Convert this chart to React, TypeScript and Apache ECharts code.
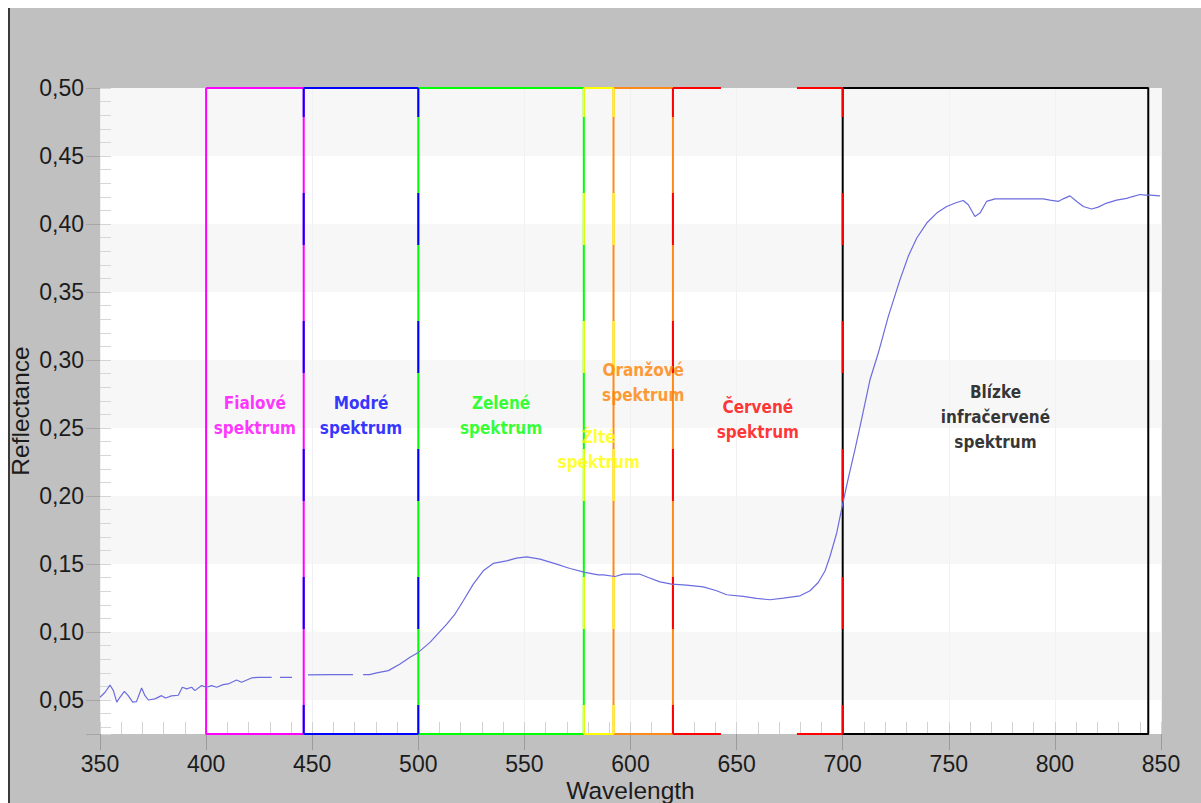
import React, { useEffect, useRef } from 'react';
import * as echarts from 'echarts';

// Spectral reflectance curve (null = gap in the recorded trace)
const wavelengths = [
  350, 352.4, 354.7, 356.3, 357.9, 359.4, 361.5, 363.3, 365.4, 367.2, 369.6, 371.2, 372.8, 375.9,
  379, 380.9, 383.7, 386.9, 388.8, 390.8, 393.2, 394.7, 397.9, 400.2, 402.6, 405, 408, 410.4,
  414.4, 416.7, 421.4, 424.6, 430.9, 432.8, 434.8, 440.5, 444, 448, 458.4, 469.2, 471.5, 474, 477,
  480.4, 485.9, 491.4, 496.1, 500, 505.5, 513.4, 517.3, 521.2, 525.9, 530.6, 535.3, 541.6, 546.3,
  551.1, 557.4, 565.2, 571.5, 578.6, 584.8, 587.2, 592.7, 596.6, 604.5, 608.4, 613.9, 619.4,
  626.4, 634.3, 640.6, 645.3, 653.1, 659.4, 665.7, 672, 679.9, 684.6, 688.5, 691.7, 694, 697.2,
  699.8, 702.7, 705.8, 708.9, 712.9, 716.8, 721.5, 727, 730.9, 734.9, 739.6, 744.3, 749, 753.7,
  756.8, 759.2, 762.3, 764.7, 767.8, 771.8, 780, 788, 794.5, 797.7, 801.6, 803.9, 807.1, 810.3,
  813.4, 817.3, 820.4, 824.4, 829.1, 833.8, 836.2, 840.1, 842.5, 844.9, 849.5,
];
const reflectance = [
  0.052, 0.0557, 0.061, 0.0569, 0.0484, 0.052, 0.0564, 0.0532, 0.0484, 0.0488, 0.0588, 0.0532, 0.05, 0.0508,
  0.0532, 0.0515, 0.053, 0.0535, 0.0594, 0.0582, 0.0594, 0.0569, 0.0606, 0.0594, 0.0606, 0.0594, 0.0613, 0.0618,
  0.0647, 0.063, 0.0662, 0.0667, 0.0667, null, 0.0667, 0.0667, null, 0.0685, 0.0687, 0.0687, null, 0.0687, 0.0687,
  0.0699, 0.0716, 0.0765, 0.0814, 0.085, 0.0924, 0.1058, 0.1132, 0.123, 0.1352, 0.145, 0.1504, 0.1523, 0.1543,
  0.1552, 0.1536, 0.1499, 0.1467, 0.1438, 0.142, 0.142, 0.1408, 0.1425, 0.1425, 0.1401, 0.1369, 0.1352,
  0.1345, 0.1332, 0.1303, 0.1274, 0.1262, 0.1247, 0.1237, 0.1249, 0.1266, 0.1303, 0.1364, 0.145, 0.1555, 0.173,
  0.1927, 0.2135, 0.2343, 0.2563, 0.2857, 0.3053, 0.3321, 0.3591, 0.3762, 0.3897, 0.4007, 0.408, 0.4129, 0.4158,
  0.4173, 0.4141, 0.4055, 0.408, 0.4166, 0.4185, 0.4185, 0.4185, 0.4185, 0.4176, 0.4166, 0.4185, 0.4207, 0.4166,
  0.4129, 0.411, 0.4124, 0.4154, 0.4176, 0.4188, 0.42, 0.4217, 0.4212, 0.4212, 0.4207,
];

// Spectral bands
const bandStart = [400, 446, 500, 578, 592, 620, 700];
const bandEnd = [446, 500, 578, 592, 620, 700, 844];
const bandNames = [
  'Fialové\nspektrum',
  'Modré\nspektrum',
  'Zelené\nspektrum',
  'Žlté\nspektrum',
  'Oranžové\nspektrum',
  'Červené\nspektrum',
  'Blízke\ninfračervené\nspektrum',
];
const bandLabelLevel = [0.2595, 0.2595, 0.2595, 0.234, 0.2835, 0.2563, 0.2578];
const bandDashedSides = [false, true, false, true, false, true, false];
const bandDashedTopBottom = [false, false, false, false, false, true, false];

// Axes
const xMin = 350;
const xMax = 850;
const xStep = 50;
const xMinorStep = 10;
const yMin = 0.025;
const yMax = 0.5;
const yStep = 0.05;
const yMinorStep = 0.01;

const bandColors = ['#ff00ff', '#0000ff', '#00ff00', '#ffff00', '#ff8a1c', '#ff0000', '#000000'];
const labelFont = "'DejaVu Sans Condensed', 'Liberation Sans Narrow', 'DejaVu Sans', sans-serif";
const axisFont = "'Liberation Sans', Arial, sans-serif";

function edge(data: any[], color: string, type: any, offset: number) {
  return {
    type: 'line',
    data,
    symbol: 'none',
    silent: true,
    clip: false,
    z: 3,
    lineStyle: { color, width: 2, type, dashOffset: offset },
  };
}

export default function App() {
  const ref = useRef<HTMLDivElement>(null);

  useEffect(() => {
    if (!ref.current) return;
    const chart = echarts.init(ref.current, undefined, { renderer: 'svg' });

    const series: any[] = [];
    bandStart.forEach((s, i) => {
      const e = bandEnd[i];
      if (!bandDashedSides[i]) {
        series.push(edge([[s, yMax], [e, yMax], [e, yMin], [s, yMin], [s, yMax]], bandColors[i], 'solid', 0));
      }
    });
    bandStart.forEach((s, i) => {
      const e = bandEnd[i];
      if (bandDashedSides[i]) {
        const c = bandColors[i];
        series.push(edge([[s, yMax], [s, yMin]], c, [52, 76], 23));
        series.push(edge([[e, yMax], [e, yMin]], c, [52, 76], 23));
        const h = bandDashedTopBottom[i] ? [52, 76] : 'solid';
        series.push(edge([[s, yMax], [e, yMax]], c, h, 4));
        series.push(edge([[s, yMin], [e, yMin]], c, h, 4));
      }
    });

    series.push({
      type: 'line',
      data: wavelengths.map((w, i) => [w, reflectance[i] == null ? '-' : reflectance[i]]),
      symbol: 'none',
      showSymbol: false,
      connectNulls: false,
      z: 4,
      silent: true,
      lineStyle: { color: '#6c6cde', width: 1.2 },
    });

    series.push({
      type: 'scatter',
      symbolSize: 0,
      silent: true,
      clip: false,
      z: 5,
      data: bandStart.map((s, i) => ({
        value: [(s + bandEnd[i]) / 2, bandLabelLevel[i]],
        label: { color: bandColors[i] === '#ff8a1c' ? '#ff8000' : bandColors[i] },
      })),
      label: {
        show: true,
        position: 'inside',
        formatter: (p: any) => bandNames[p.dataIndex],
        fontFamily: labelFont,
        fontWeight: 'bold',
        fontSize: 17,
        lineHeight: 25,
        align: 'center',
      },
    });

    const isMajorY = (v: number) => Math.abs(v / yStep - Math.round(v / yStep)) < 1e-6;

    chart.setOption({
      animation: false,
      backgroundColor: '#c0c0c0',
      grid: {
        left: 92,
        right: 40,
        top: 80,
        bottom: 69,
        show: true,
        backgroundColor: '#ffffff',
        borderWidth: 0,
        containLabel: false,
        outerBoundsMode: 'none',
      },
      xAxis: [
        {
          type: 'value',
          min: xMin,
          max: xMax,
          interval: xStep,
          position: 'bottom',
          axisLine: { show: false },
          axisTick: { show: true, length: 16, lineStyle: { color: '#9a9a9a', width: 1 } },
          axisLabel: { fontSize: 23, color: '#1c1c1c', margin: 18, fontFamily: axisFont },
          splitLine: { show: true, lineStyle: { color: '#f1f1f1', width: 1 } },
          name: 'Wavelength',
          nameLocation: 'middle',
          nameGap: 44,
          nameMoveOverlap: false,
          nameTextStyle: { fontSize: 24.5, color: '#1c1c1c', fontFamily: axisFont },
        },
        {
          type: 'value',
          min: xMin,
          max: xMax,
          interval: xMinorStep,
          position: 'bottom',
          axisLine: { show: false },
          axisTick: { show: true, inside: true, length: 12, lineStyle: { color: '#d2d2d2', width: 1 } },
          axisLabel: { show: false },
          splitLine: { show: false },
        },
      ],
      yAxis: [
        {
          type: 'value',
          min: yMin,
          max: yMax,
          splitNumber: 10,
          minInterval: yStep,
          maxInterval: yStep,
          position: 'left',
          axisLine: { show: false },
          axisTick: { show: true, length: 14, lineStyle: { color: '#a6a6a6', width: 1 } },
          axisLabel: {
            fontSize: 23,
            color: '#1c1c1c',
            margin: 16,
            fontFamily: axisFont,
            formatter: (v: number) => (isMajorY(v) ? v.toFixed(2).replace('.', ',') : ''),
          },
          splitLine: { show: false },
          splitArea: { show: true, areaStyle: { color: ['#ffffff', '#f7f7f7'] } },
          name: 'Reflectance',
          nameLocation: 'middle',
          nameGap: 67,
          nameMoveOverlap: false,
          nameTextStyle: { fontSize: 24.5, color: '#1c1c1c', fontFamily: axisFont },
        },
        {
          type: 'value',
          min: yMin,
          max: yMax,
          splitNumber: 48,
          minInterval: yMinorStep,
          maxInterval: yMinorStep,
          position: 'left',
          axisLine: { show: false },
          axisTick: { show: true, inside: true, length: 11, lineStyle: { color: '#d6d6d6', width: 1 } },
          axisLabel: { show: false },
          splitLine: { show: false },
        },
      ],
      series,
    });

    return () => chart.dispose();
  }, []);

  return (
    <div style={{ position: 'fixed', left: 8, top: 8, width: 1193, height: 795, overflow: 'hidden' }}>
      <div ref={ref} style={{ width: 1193, height: 795 }} />
      <div style={{ position: 'absolute', left: 0, top: 0, width: 2, height: 795, background: '#3a3a3a' }} />
    </div>
  );
}
